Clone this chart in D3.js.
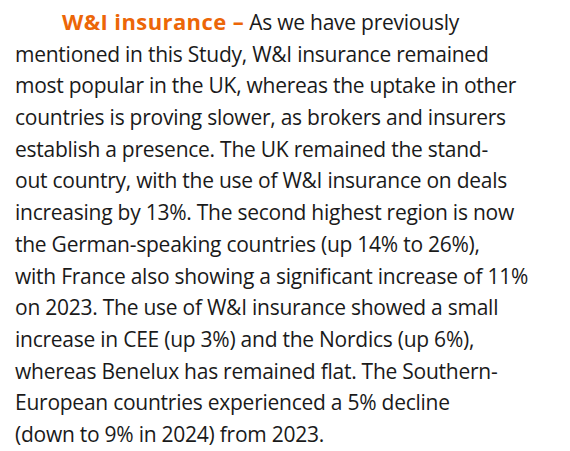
<!DOCTYPE html>
<html lang="en">

<head>
  <meta charset="UTF-8">
  <title>W&amp;I insurance</title>
  <script src="https://d3js.org/d3.v7.min.js"></script>
  <style>
    body { margin: 0; background: #fff; }
    text { font-family: "Open Sans", sans-serif; font-size: 21px; letter-spacing: -0.25px; fill: #1a1a1a; }
    .lead { font-weight: bold; font-size: 22px; letter-spacing: 0.4px; fill: #ec6608; }
  </style>
</head>

<body>

  <svg id="chart" width="570" height="451"></svg>

  <script>
    // Heading run and paragraph lines, as broken in the reference
    const heading = "W&I insurance –";
    const firstLineRest = " As we have previously";
    const bodyLines = [
      "mentioned in this Study, W&I insurance remained",
      "most popular in the UK, whereas the uptake in other",
      "countries is proving slower, as brokers and insurers",
      "establish a presence. The UK remained the stand-",
      "out country, with the use of W&I insurance on deals",
      "increasing by 13%. The second highest region is now",
      "the German-speaking countries (up 14% to 26%),",
      "with France also showing a significant increase of 11%",
      "on 2023. The use of W&I insurance showed a small",
      "increase in CEE (up 3%) and the Nordics (up 6%),",
      "whereas Benelux has remained flat. The Southern-",
      "European countries experienced a 5% decline",
      "(down to 9% in 2024) from 2023."
    ];

    const svg = d3.select("#chart");

    // line index -> baseline
    const y = d3.scaleLinear().domain([0, 13]).range([30, 442]);

    const first = svg.append("text")
      .attr("x", 62)
      .attr("y", y(0));
    first.append("tspan")
      .attr("class", "lead")
      .text(heading);
    first.append("tspan")
      .text(firstLineRest);

    svg.selectAll("text.body")
      .data(bodyLines)
      .join("text")
      .attr("class", "body")
      .attr("x", 15)
      .attr("y", (d, i) => y(i + 1))
      .text(d => d);
  </script>

</body>

</html>
